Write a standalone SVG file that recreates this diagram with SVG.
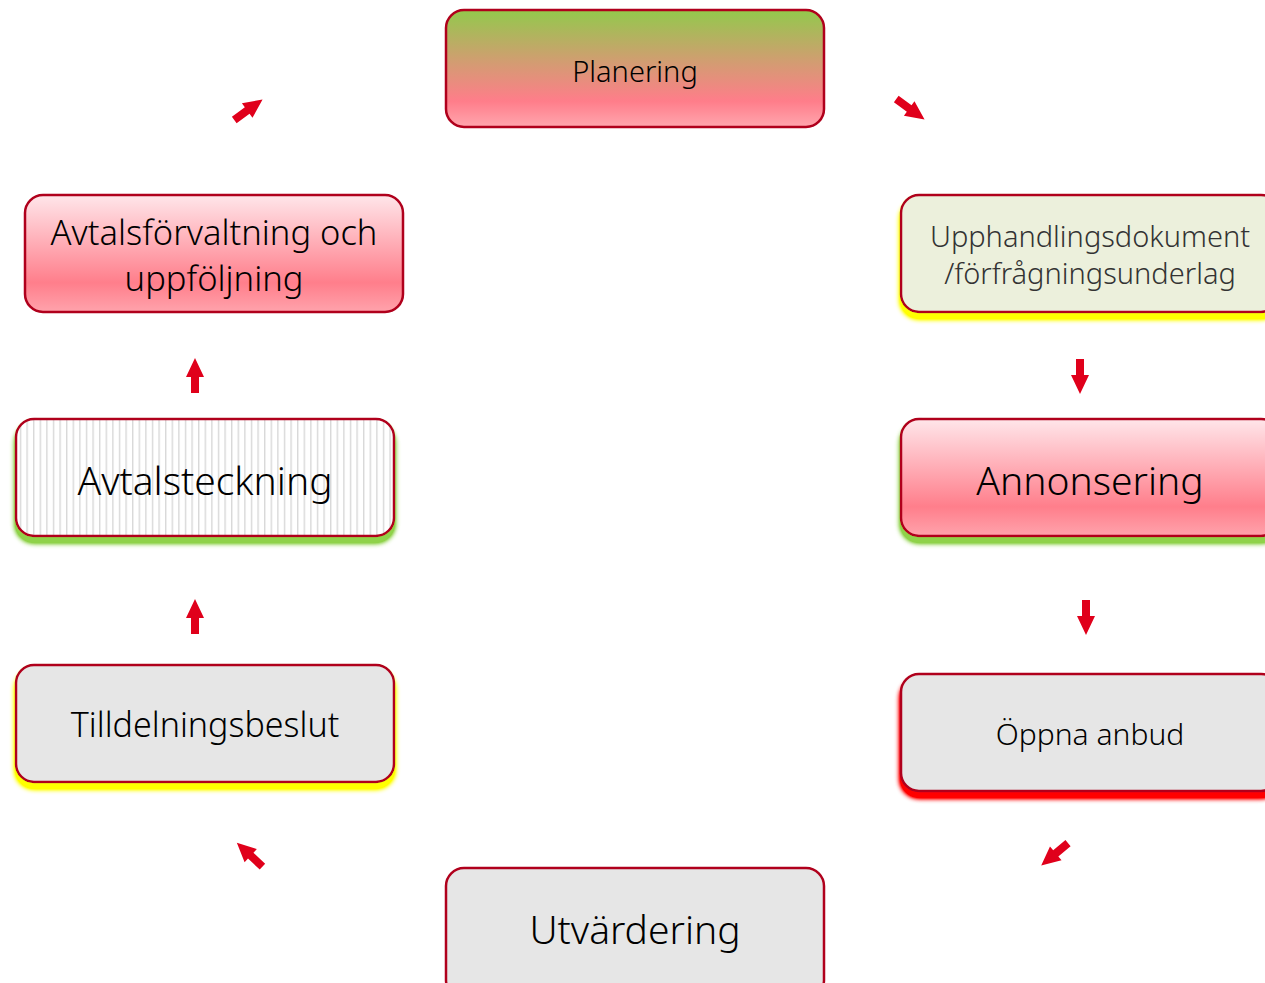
<svg xmlns="http://www.w3.org/2000/svg" width="1265" height="983" viewBox="0 0 1265 983">
<style>
.box{stroke:#b0001c;stroke-width:2.5}
.t{font-family:"Noto Sans","Open Sans","DejaVu Sans",sans-serif;font-weight:300;fill:#000;text-anchor:middle;dominant-baseline:central}
.arr{fill:#e0001b}
</style>
<defs>
<linearGradient id="gPlan" x1="0" y1="0" x2="0" y2="1">
<stop offset="0" stop-color="#92c94c"/>
<stop offset="0.45" stop-color="#d39c72"/>
<stop offset="0.78" stop-color="#ff7d8a"/>
<stop offset="1" stop-color="#ffa6ae"/>
</linearGradient>
<linearGradient id="gPink" x1="0" y1="0" x2="0" y2="1">
<stop offset="0" stop-color="#ffe6ea"/>
<stop offset="0.75" stop-color="#ff7e8b"/>
<stop offset="1" stop-color="#ffa3ac"/>
</linearGradient>
<pattern id="stripes" width="6.6" height="10" patternUnits="userSpaceOnUse">
<rect width="6.6" height="10" fill="#ffffff"/>
<rect x="0" width="1.4" height="10" fill="#d8d8d8"/>
</pattern>
<filter id="shYellow" x="-10%" y="-20%" width="120%" height="150%">
<feGaussianBlur in="SourceAlpha" stdDeviation="2.5"/><feOffset dx="0" dy="6" result="b"/>
<feComponentTransfer in="b" result="b2"><feFuncA type="linear" slope="1.8"/></feComponentTransfer>
<feFlood flood-color="#ffff00"/><feComposite in2="b2" operator="in"/>
<feMerge><feMergeNode/><feMergeNode in="SourceGraphic"/></feMerge>
</filter>
<filter id="shGreen" x="-10%" y="-20%" width="120%" height="150%">
<feGaussianBlur in="SourceAlpha" stdDeviation="2.5"/><feOffset dx="0" dy="6" result="b"/>
<feComponentTransfer in="b" result="b2"><feFuncA type="linear" slope="1.8"/></feComponentTransfer>
<feFlood flood-color="#8fd24a"/><feComposite in2="b2" operator="in"/>
<feMerge><feMergeNode/><feMergeNode in="SourceGraphic"/></feMerge>
</filter>
<filter id="shRed" x="-10%" y="-20%" width="120%" height="150%">
<feGaussianBlur in="SourceAlpha" stdDeviation="2.5"/><feOffset dx="0" dy="6" result="b"/>
<feComponentTransfer in="b" result="b2"><feFuncA type="linear" slope="1.8"/></feComponentTransfer>
<feFlood flood-color="#ff0000"/><feComposite in2="b2" operator="in"/>
<feMerge><feMergeNode/><feMergeNode in="SourceGraphic"/></feMerge>
</filter>
<path id="a" d="M-17,-4 L-1,-4 L-1,-9 L18,0 L-1,9 L-1,4 L-17,4 Z"/>
</defs>
<rect width="1265" height="983" fill="#ffffff"/>

<g id="connectors">
<use href="#a" class="arr" transform="translate(248,110) rotate(-36)"/>
<use href="#a" class="arr" transform="translate(910,109) rotate(36)"/>
<use href="#a" class="arr" transform="translate(1080,376) rotate(90)"/>
<use href="#a" class="arr" transform="translate(1086,617) rotate(90)"/>
<use href="#a" class="arr" transform="translate(1055,854) rotate(140)"/>
<use href="#a" class="arr" transform="translate(250,855) rotate(-137)"/>
<use href="#a" class="arr" transform="translate(195,376) rotate(-90)"/>
<use href="#a" class="arr" transform="translate(195,617) rotate(-90)"/>
</g>

<g id="planering">
<rect class="box" x="446" y="10" width="378" height="117" rx="18" fill="url(#gPlan)"/>
<text class="t" x="635" y="70" font-size="29">Planering</text>
</g>

<g id="upphandlingsdokument">
<rect class="box" x="901" y="195" width="378" height="117" rx="18" fill="#ecf0dc" filter="url(#shYellow)"/>
<text class="t" x="1090" y="235" font-size="29" style="fill:#333">Upphandlingsdokument</text>
<text class="t" x="1090" y="272" font-size="29" style="fill:#333">/förfrågningsunderlag</text>
</g>

<g id="annonsering">
<rect class="box" x="901" y="419" width="378" height="117" rx="18" fill="url(#gPink)" filter="url(#shGreen)"/>
<text class="t" x="1090" y="479" font-size="39">Annonsering</text>
</g>

<g id="oppna-anbud">
<rect class="box" x="901" y="674" width="378" height="117" rx="18" fill="#e6e6e6" filter="url(#shRed)"/>
<text class="t" x="1090" y="733" font-size="30">Öppna anbud</text>
</g>

<g id="utvardering">
<rect class="box" x="446" y="868" width="378" height="130" rx="18" fill="#e6e6e6"/>
<text class="t" x="635" y="928" font-size="39">Utvärdering</text>
</g>

<g id="tilldelningsbeslut">
<rect class="box" x="16" y="665" width="378" height="117" rx="18" fill="#e6e6e6" filter="url(#shYellow)"/>
<text class="t" x="205" y="724" font-size="34">Tilldelningsbeslut</text>
</g>

<g id="avtalsteckning">
<rect class="box" x="16" y="419" width="378" height="117" rx="18" fill="url(#stripes)" filter="url(#shGreen)"/>
<text class="t" x="205" y="479" font-size="39">Avtalsteckning</text>
</g>

<g id="avtalsforvaltning">
<rect class="box" x="25" y="195" width="378" height="117" rx="18" fill="url(#gPink)"/>
<text class="t" x="214" y="231" font-size="34.5">Avtalsförvaltning och</text>
<text class="t" x="214" y="277" font-size="34.5">uppföljning</text>
</g>
</svg>
